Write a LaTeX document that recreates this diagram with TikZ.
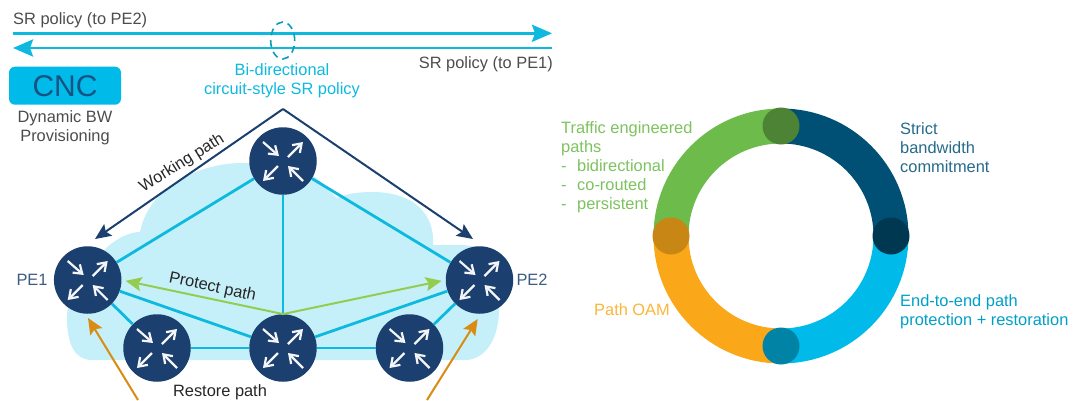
\documentclass[tikz,border=0pt]{standalone}
\usepackage{fontspec}
\setmainfont{Liberation Sans}
\usetikzlibrary{arrows.meta,shapes.geometric}
\definecolor{navy}{HTML}{1B3F6E}
\definecolor{linkblue}{HTML}{0DB9DF}
\definecolor{cloudblue}{HTML}{C5F0FA}
\definecolor{protectgreen}{HTML}{93CC4F}
\definecolor{restoreorange}{HTML}{D98B12}
\definecolor{ringgreen}{HTML}{6DBB4B}
\definecolor{ringnavy}{HTML}{005075}
\definecolor{ringblue}{HTML}{00BBEA}
\definecolor{ringorange}{HTML}{FAA819}
\begin{document}
\begin{tikzpicture}[x=1pt,y=-1pt]
% estilos
\tikzset{
  router/.style={circle, fill=navy, minimum size=67.5pt, inner sep=0pt},
  link/.style={draw=linkblue, line width=2.8pt},
  policy/.style={draw=linkblue, line width=2.8pt, -{Stealth[length=20pt,width=17pt,inset=3pt]}},
  working/.style={draw=navy, line width=2pt, -{Stealth[length=16pt,width=14pt,inset=3pt]}},
  protect/.style={draw=protectgreen, line width=2pt, -{Stealth[length=16pt,width=14pt,inset=3pt]}},
  restore/.style={draw=restoreorange, line width=2pt, -{Stealth[length=16pt,width=14pt,inset=3pt]}},
  inner/.style={white!95!navy, line width=2.2pt, -{Straight Barb[length=8pt,width=11pt]}},
  lbl/.style={inner sep=0pt, font=\fontsize{16.4}{19}\selectfont, text=#1},
  lbl/.default=black!70,
  ring/.style={line width=35pt},
  joint/.style={circle, minimum size=37pt, inner sep=0pt}
}
\useasboundingbox (0,0) rectangle (1074,400);

\fill[cloudblue] (92,360) -- (467,360) .. controls (488,358) and (500,335) .. (499,305)
  -- (495,262) .. controls (490,250) and (475,245) .. (460,245) -- (433,245)
  .. controls (435,215) and (415,192) .. (372,192) .. controls (358,192) and (345,194) .. (337,198)
  .. controls (325,190) and (322,172) .. (283,165) -- (243,163)
  .. controls (195,163) and (148,190) .. (140,232) .. controls (125,232) and (105,245) .. (95,262)
  .. controls (80,275) and (67,295) .. (67,318) .. controls (67,345) and (75,360) .. (92,360) -- cycle;

% routers
\foreach \n/\x/\y in {top/283/161, pea/87.7/280, peb/479.5/280, lowa/157/348, lowb/283/348, lowc/409.5/348} {
  \node[router] (\n) at (\x,\y) {};
  \draw[inner] (\x-20,\y-19) -- (\x-4,\y-5);
  \draw[inner] (\x+5,\y-4) -- (\x+20,\y-19);
  \draw[inner] (\x-5,\y+5) -- (\x-20,\y+20);
  \draw[inner] (\x+20,\y+20) -- (\x+5,\y+5);
}

\draw[link] (top) -- (pea);
\draw[link] (top) -- (peb);
\draw[link] (top) -- (lowb);
\draw[link] (pea) -- (lowb);
\draw[link] (peb) -- (lowb);
\draw[link] (pea) -- (lowa);
\draw[link] (peb) -- (lowc);
\draw[link] (lowa) -- (lowb);
\draw[link] (lowb) -- (lowc);

% SR policies
\coordinate (aw) at (13,33.3);
\coordinate (ae) at (552,33.3);
\coordinate (bw) at (13,48);
\coordinate (be) at (552,48);
\draw[policy] (aw) -- (ae);
\draw[policy] (be) -- (bw);
\node[draw=linkblue!85!black, line width=1.6pt, dash pattern=on 7pt off 5pt, ellipse, minimum width=24pt, minimum height=37pt, inner sep=0pt] (oval) at (282.7,40.5) {};
\node[lbl, anchor=west] (toa) at (13,20.7) {SR policy (to PE2)};
\node[lbl, anchor=east] (tob) at (553,64) {SR policy (to PE1)};
\node[lbl=linkblue, align=center] (bidir) at (282,80.5) {Bi-directional\\circuit-style SR policy};

\node[fill=ringblue, rounded corners=6pt, minimum width=112pt, minimum height=38pt, inner sep=0pt, text=navy!85!ringblue, font=\fontsize{30}{32}\selectfont] (cnc) at (65,85.7) {CNC};
\node[lbl, align=center] (dynbw) at (65,127.5) {Dynamic BW\\Provisioning};

% paths
\coordinate (apex) at (283,109);
\coordinate (wa) at (95,239);
\coordinate (wb) at (473,239);
\draw[working] (apex) -- (wa);
\draw[working] (apex) -- (wb);
\draw[protect, shorten >=4pt] (lowb.north) -- (pea.east);
\draw[protect, shorten >=4pt] (lowb.north) -- (peb.west);
\coordinate (ra) at (138,400);
\coordinate (rb) at (427,400);
\coordinate (rc) at (88,318);
\coordinate (rd) at (477.7,319);
\draw[restore] (ra) -- (rc);
\draw[restore] (rb) -- (rd);

\node[lbl=black!85, rotate=32] (wlabel) at (182,163.5) {Working path};
\node[lbl=black!85, rotate=-12] (plabel) at (212.5,287.5) {Protect path};
\node[lbl=black!85] (rlabel) at (220,392) {Restore path};
\node[lbl=navy!85] (pealabel) at (32,280) {PE1};
\node[lbl=navy!85] (peblabel) at (532,280) {PE2};

% anillo
\draw[ring, ringnavy] (781,126) arc (90:0:110pt);
\draw[ring, ringblue] (891,236) arc (0:-90:110pt);
\draw[ring, ringorange] (781,346) arc (-90:-180:110pt);
\draw[ring, ringgreen] (671,236) arc (180:90:110pt);
\node[joint, fill=ringgreen!70!black] (jtop) at (781,126) {};
\node[joint, fill=ringnavy!70!black] (jright) at (891,236) {};
\node[joint, fill=ringblue!70!black] (jbottom) at (781,346) {};
\node[joint, fill=ringorange!80!black] (jleft) at (671,236) {};

\node[lbl=ringgreen!90!white, anchor=west, align=left] (traffic) at (561,167) {Traffic engineered\\paths\\\makebox[16pt][l]{-}bidirectional\\\makebox[16pt][l]{-}co-routed\\\makebox[16pt][l]{-}persistent};
\node[lbl=ringnavy!85!white, anchor=west, align=left] (strict) at (900,148) {Strict\\bandwidth\\commitment};
\node[lbl=ringblue!85!black, anchor=west, align=left] (e2e) at (900,311.5) {End-to-end path\\protection + restoration};
\node[lbl=ringorange!85!white, anchor=west] (oam) at (594,310) {Path OAM};
\end{tikzpicture}
\end{document}
